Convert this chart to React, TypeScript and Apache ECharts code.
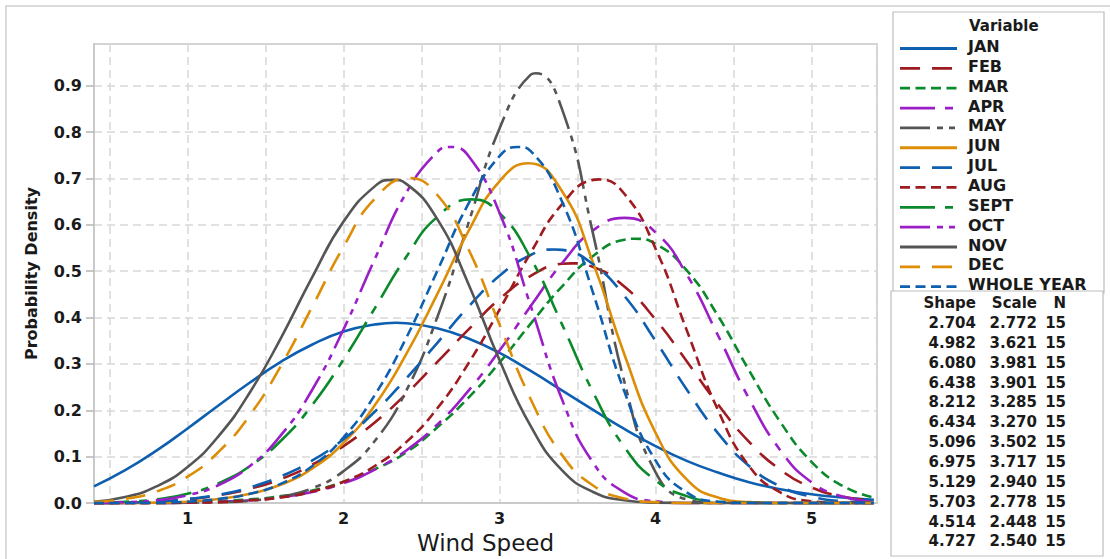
import React, { useEffect, useRef } from 'react';
import * as echarts from 'echarts';

// Wind speed grid (x values) shared by every curve
const xs = [0.4, 0.6, 0.8, 1.0, 1.2, 1.4, 1.6, 1.8, 2.0, 2.2, 2.4, 2.6, 2.8, 3.0, 3.2, 3.4, 3.6, 3.8, 4.0, 4.2, 4.4, 4.6, 4.8, 5.0, 5.2, 5.4];

// Probability density read for each variable
const JAN = [0.036, 0.071, 0.113, 0.161, 0.211, 0.260, 0.305, 0.342, 0.370, 0.385, 0.388, 0.377, 0.355, 0.324, 0.285, 0.243, 0.201, 0.160, 0.123, 0.091, 0.066, 0.045, 0.030, 0.019, 0.012, 0.007];
const FEB = [0.000, 0.001, 0.003, 0.008, 0.017, 0.031, 0.052, 0.083, 0.123, 0.174, 0.235, 0.304, 0.374, 0.440, 0.490, 0.516, 0.509, 0.467, 0.396, 0.306, 0.213, 0.132, 0.072, 0.034, 0.014, 0.005];
const MAR = [0.000, 0.000, 0.000, 0.001, 0.004, 0.008, 0.015, 0.027, 0.046, 0.073, 0.109, 0.163, 0.227, 0.303, 0.387, 0.467, 0.533, 0.568, 0.559, 0.502, 0.404, 0.286, 0.175, 0.089, 0.037, 0.012];
const APR = [0.000, 0.000, 0.000, 0.001, 0.003, 0.006, 0.013, 0.024, 0.043, 0.072, 0.113, 0.169, 0.242, 0.329, 0.425, 0.517, 0.588, 0.615, 0.584, 0.493, 0.362, 0.225, 0.114, 0.045, 0.014, 0.003];
const MAY = [0.000, 0.000, 0.000, 0.001, 0.002, 0.005, 0.014, 0.032, 0.069, 0.134, 0.241, 0.400, 0.603, 0.808, 0.924, 0.850, 0.580, 0.262, 0.067, 0.008, 0.000, 0.000, 0.000, 0.000, 0.000, 0.000];
const JUN = [0.000, 0.000, 0.001, 0.003, 0.009, 0.020, 0.040, 0.075, 0.130, 0.211, 0.320, 0.450, 0.586, 0.694, 0.733, 0.673, 0.518, 0.321, 0.152, 0.051, 0.012, 0.002, 0.000, 0.000, 0.000, 0.000];
const JUL = [0.000, 0.001, 0.003, 0.009, 0.018, 0.034, 0.058, 0.092, 0.138, 0.197, 0.268, 0.345, 0.423, 0.490, 0.535, 0.546, 0.515, 0.447, 0.350, 0.245, 0.151, 0.080, 0.036, 0.014, 0.004, 0.001];
const AUG = [0.000, 0.000, 0.000, 0.001, 0.002, 0.006, 0.012, 0.025, 0.046, 0.080, 0.131, 0.204, 0.301, 0.417, 0.540, 0.644, 0.697, 0.667, 0.549, 0.373, 0.201, 0.080, 0.023, 0.004, 0.000, 0.000];
const SEPT = [0.001, 0.003, 0.008, 0.020, 0.043, 0.080, 0.135, 0.212, 0.310, 0.420, 0.530, 0.617, 0.655, 0.625, 0.528, 0.386, 0.239, 0.121, 0.049, 0.015, 0.003, 0.001, 0.000, 0.000, 0.000, 0.000];
const OCT = [0.000, 0.002, 0.006, 0.017, 0.039, 0.080, 0.147, 0.245, 0.375, 0.526, 0.668, 0.757, 0.749, 0.626, 0.425, 0.224, 0.087, 0.023, 0.004, 0.000, 0.000, 0.000, 0.000, 0.000, 0.000, 0.000];
const NOV = [0.003, 0.013, 0.036, 0.078, 0.145, 0.239, 0.357, 0.488, 0.607, 0.683, 0.689, 0.613, 0.473, 0.308, 0.166, 0.071, 0.024, 0.006, 0.001, 0.000, 0.000, 0.000, 0.000, 0.000, 0.000, 0.000];
const DEC = [0.002, 0.009, 0.025, 0.057, 0.111, 0.190, 0.297, 0.424, 0.553, 0.656, 0.701, 0.665, 0.548, 0.385, 0.224, 0.104, 0.038, 0.010, 0.002, 0.000, 0.000, 0.000, 0.000, 0.000, 0.000, 0.000];
const WHOLE_YEAR = [0.000, 0.000, 0.001, 0.003, 0.009, 0.020, 0.042, 0.080, 0.142, 0.233, 0.355, 0.500, 0.645, 0.748, 0.759, 0.651, 0.453, 0.241, 0.092, 0.023, 0.003, 0.000, 0.000, 0.000, 0.000, 0.000];

// Peak of each curve (wind speed, density)
const peakX = [2.337, 3.462, 3.865, 3.80, 3.233, 3.185, 3.355, 3.635, 2.818, 2.686, 2.316, 2.416, 3.12];
const peakY = [0.389, 0.517, 0.570, 0.615, 0.927, 0.733, 0.547, 0.698, 0.655, 0.768, 0.697, 0.701, 0.768];

const seriesNames = ['JAN', 'FEB', 'MAR', 'APR', 'MAY', 'JUN', 'JUL', 'AUG', 'SEPT', 'OCT', 'NOV', 'DEC', 'WHOLE YEAR'];
const seriesValues = [JAN, FEB, MAR, APR, MAY, JUN, JUL, AUG, SEPT, OCT, NOV, DEC, WHOLE_YEAR];

// Table shown under the legend
const shapeVals = ['2.704', '4.982', '6.080', '6.438', '8.212', '6.434', '5.096', '6.975', '5.129', '5.703', '4.514', '4.727'];
const scaleVals = ['2.772', '3.621', '3.981', '3.901', '3.285', '3.270', '3.502', '3.717', '2.940', '2.778', '2.448', '2.540'];
const nVals = ['15', '15', '15', '15', '15', '15', '15', '15', '15', '15', '15', '15'];

// Axis tick labels
const xTickValues = [1, 2, 3, 4, 5];
const yTickValues = [0, 0.1, 0.2, 0.3, 0.4, 0.5, 0.6, 0.7, 0.8, 0.9];

// Styles
const BLUE = '#0f5fb0';
const RED = '#9e1b20';
const GREEN = '#0b8a2c';
const PURPLE = '#9b1fc6';
const GRAY = '#555555';
const ORANGE = '#dd8d06';
const SOLID: number[] | null = null;
const LONG = [20, 12];
const SHORT = [10, 5.5];
const DDOT = [35, 10, 8, 10];
const DDD = [30, 7, 6, 6, 6, 7];
const seriesColors = [BLUE, RED, GREEN, PURPLE, GRAY, ORANGE, BLUE, RED, GREEN, PURPLE, GRAY, ORANGE, BLUE];
const seriesDash = [SOLID, LONG, SHORT, DDOT, DDD, SOLID, LONG, SHORT, DDOT, DDD, SOLID, LONG, SHORT];

const FONT = '"DejaVu Sans", "Noto Sans", sans-serif';
const TEXT = '#1a1a1a';
const GRID = '#d8d8d8';
const BORDER = '#c6c6c6';

function buildData(i: number): number[][] {
  const pts = xs.map((x, j) => [x, seriesValues[i][j]]);
  const px = peakX[i];
  const filtered = pts.filter((p) => Math.abs(p[0] - px) > 0.03);
  filtered.push([px, peakY[i]]);
  filtered.sort((a, b) => a[0] - b[0]);
  return filtered;
}

export default function App() {
  const ref = useRef<HTMLDivElement>(null);

  useEffect(() => {
    document.body.style.margin = '0';
    if (!ref.current) return;
    const chart = echarts.init(ref.current, undefined, { renderer: 'svg' });

    const series = seriesNames.map((name, i) => ({
      name,
      type: 'line',
      data: buildData(i),
      showSymbol: false,
      symbol: 'none',
      smooth: 0.5,
      clip: true,
      lineStyle: {
        color: seriesColors[i],
        width: 2.6,
        type: seriesDash[i] ? seriesDash[i] : 'solid',
        cap: 'butt',
      },
      emphasis: { disabled: true },
      z: 2 + i,
    }));

    const graphics: any[] = [];
    graphics.push({
      type: 'rect',
      shape: { x: 6, y: 6, width: 1115, height: 565 },
      style: { fill: 'none', stroke: '#cfcfcf', lineWidth: 1.5 },
      silent: true,
      z: 0,
    });
    graphics.push({
      type: 'rect',
      shape: { x: 893, y: 12, width: 211, height: 281 },
      style: { fill: '#fff', stroke: '#bdbdbd', lineWidth: 1.2 },
      silent: true,
    });
    graphics.push({
      type: 'rect',
      shape: { x: 891, y: 291, width: 212, height: 265 },
      style: { fill: '#fff', stroke: '#bdbdbd', lineWidth: 1.2 },
      silent: true,
    });
    graphics.push({
      type: 'text',
      x: 969,
      y: 26,
      style: { text: 'Variable', font: `bold 15px ${FONT}`, fill: TEXT, textAlign: 'left', textVerticalAlign: 'middle', align: 'left', verticalAlign: 'middle' },
      silent: true,
      z: 10,
    });
    seriesNames.forEach((name, i) => {
      const y = 46.5 + i * 19.85;
      graphics.push({
        type: 'line',
        shape: { x1: 900, y1: y + 2, x2: 957, y2: y + 2 },
        style: { stroke: seriesColors[i], lineWidth: 2.8, lineDash: seriesDash[i] || null, lineCap: 'butt' },
        silent: true,
        z: 10,
      });
      graphics.push({
        type: 'text',
        x: 968,
        y,
        style: { text: name, font: `bold 16px ${FONT}`, fill: TEXT, textAlign: 'left', textVerticalAlign: 'middle', align: 'left', verticalAlign: 'middle' },
        silent: true,
        z: 10,
      });
    });
    const colRight = [976, 1037, 1066];
    const header = ['Shape', 'Scale', 'N'];
    header.forEach((h, c) => {
      graphics.push({
        type: 'text',
        x: colRight[c],
        y: 303,
        style: { text: h, font: `bold 15px ${FONT}`, fill: TEXT, textAlign: 'right', textVerticalAlign: 'middle', align: 'right', verticalAlign: 'middle' },
        silent: true,
        z: 10,
      });
    });
    shapeVals.forEach((s, i) => {
      const y = 323 + i * 19.85;
      [s, scaleVals[i], nVals[i]].forEach((t, c) => {
        graphics.push({
          type: 'text',
          x: colRight[c],
          y,
          style: { text: t, font: `bold 15px ${FONT}`, fill: TEXT, textAlign: 'right', textVerticalAlign: 'middle', align: 'right', verticalAlign: 'middle' },
          silent: true,
          z: 10,
        });
      });
    });

    const splitLine = { show: true, lineStyle: { color: GRID, width: 1.5, type: [8, 5] } };

    chart.setOption({
      animation: false,
      backgroundColor: '#ffffff',
      textStyle: { fontFamily: FONT },
      grid: {
        left: 94,
        top: 44,
        right: 233,
        bottom: 53,
        show: true,
        borderColor: BORDER,
        borderWidth: 1.5,
        backgroundColor: 'transparent',
        containLabel: false,
      },
      xAxis: {
        type: 'value',
        min: 0.4,
        max: 5.42,
        minInterval: 0.5,
        maxInterval: 0.5,
        name: 'Wind Speed',
        nameLocation: 'middle',
        nameGap: 25,
        nameTextStyle: { fontFamily: FONT, fontSize: 23, color: TEXT },
        axisLine: { show: true, lineStyle: { color: BORDER, width: 1.5 } },
        axisTick: { show: false },
        axisLabel: {
          customValues: xTickValues,
          formatter: (v: number) => String(Math.round(v)),
          fontFamily: FONT,
          fontSize: 16,
          fontWeight: 'bold',
          color: TEXT,
          margin: 7,
        },
        splitLine,
      },
      yAxis: {
        type: 'value',
        min: 0,
        max: 0.99,
        interval: 0.05,
        name: 'Probability Density',
        nameLocation: 'middle',
        nameGap: 55,
        nameRotate: 90,
        nameTextStyle: { fontFamily: FONT, fontSize: 16, fontWeight: 'bold', color: TEXT },
        axisLine: { show: true, lineStyle: { color: BORDER, width: 1.5 } },
        axisTick: { show: true, customValues: yTickValues, length: 8, lineStyle: { color: '#b5b5b5', width: 1.5 } },
        axisLabel: {
          customValues: yTickValues,
          formatter: (v: number) => v.toFixed(1),
          fontFamily: FONT,
          fontSize: 16,
          fontWeight: 'bold',
          color: TEXT,
          margin: 12,
        },
        splitLine,
      },
      series,
      graphic: { elements: graphics },
    });

    return () => chart.dispose();
  }, []);

  return <div ref={ref} style={{ width: 1110, height: 559 }} />;
}
